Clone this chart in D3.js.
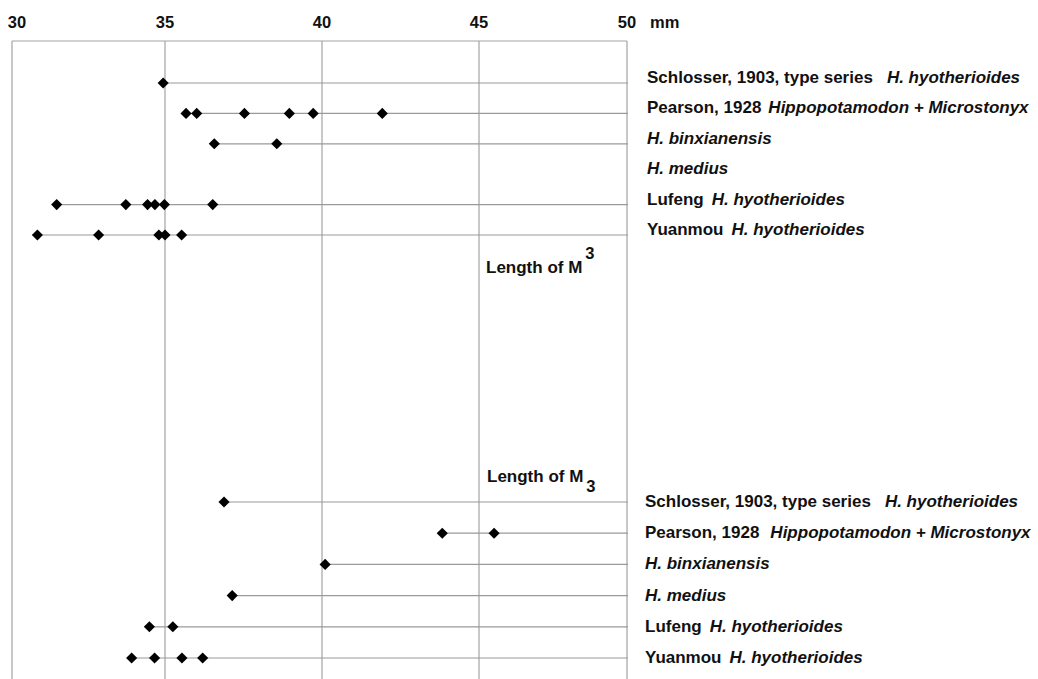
<!DOCTYPE html>
<html>
<head>
<meta charset="utf-8">
<script src="https://cdn.jsdelivr.net/npm/d3@7"></script>
<style>
  html, body { margin: 0; padding: 0; background: #fff; }
  svg { display: block; font-family: "Liberation Sans", Arial, sans-serif; font-weight: bold; }
</style>
</head>
<body>
<svg id="chart" width="1038" height="679"></svg>
<script>
// ---- data ----
const tickValues = [30, 35, 40, 45, 50];
const unitLabel = "mm";

const rowPlain  = ["Schlosser, 1903, type series", "Pearson, 1928", "", "", "Lufeng", "Yuanmou"];
const rowItalic = ["H. hyotherioides", "Hippopotamodon + Microstonyx", "H. binxianensis", "H. medius", "H. hyotherioides", "H. hyotherioides"];

// Length of M3 (upper)
const upperValues = [
  [34.94],
  [35.67, 36.01, 37.53, 38.96, 39.72, 41.92],
  [36.57, 38.56],
  [],
  [31.46, 33.72, 34.43, 34.67, 34.98, 36.52],
  [30.83, 32.83, 34.80, 35.00, 35.53]
];
// Length of M3 (lower)
const lowerValues = [
  [36.88],
  [43.83, 45.51],
  [40.10],
  [37.14],
  [34.49, 35.25],
  [33.91, 34.66, 35.54, 36.20]
];

const upperTitle = ["Length of M", "3"];
const lowerTitle = ["Length of M", "3"];

// ---- layout ----
const svg = d3.select("#chart");
const plotLeft = 12, plotRight = 627, plotTop = 41, plotBottom = 679;

// scanned figure axis is slightly uneven: piecewise linear scale through tick positions
const x = d3.scaleLinear().domain(tickValues).range([12, 165, 322, 479, 627]);

const idx = d3.range(rowPlain.length);
const yUpper = d3.scalePoint().domain(idx).range([83, 235]);
const yLower = d3.scalePoint().domain(idx).range([502, 658]);

const gridColor = "#a3a3a3";

// vertical gridlines
svg.append("g").selectAll("line").data(tickValues).join("line")
  .attr("x1", d => x(d)).attr("x2", d => x(d))
  .attr("y1", plotTop).attr("y2", plotBottom)
  .attr("stroke", gridColor).attr("stroke-width", 1.2);
// top border
svg.append("line").attr("x1", plotLeft).attr("x2", plotRight).attr("y1", plotTop).attr("y2", plotTop)
  .attr("stroke", gridColor).attr("stroke-width", 1.2);

// tick labels
svg.append("g").selectAll("text").data(tickValues).join("text")
  .attr("x", d => x(d) + (d === 30 ? 5 : 0)).attr("y", 28)
  .attr("text-anchor", "middle").attr("font-size", 16.5).attr("fill", "#111")
  .text(d => d);
svg.append("text").attr("x", 650).attr("y", 28).attr("font-size", 16.5).attr("fill", "#111").text(unitLabel);

const diamond = d3.symbol().type(d3.symbolSquare).size(62);

function panel(values, y, labelX, labelDy, gaps) {
  const g = svg.append("g");
  g.selectAll("line.row").data(idx.filter(i => values[i].length)).join("line")
    .attr("class", "row")
    .attr("x1", i => x(d3.min(values[i]))).attr("x2", plotRight + 1)
    .attr("y1", i => y(i)).attr("y2", i => y(i))
    .attr("stroke", "#9a9a9a").attr("stroke-width", 1.2);
  const pts = idx.flatMap(i => values[i].map(v => ({ i, v })));
  g.selectAll("path.pt").data(pts).join("path")
    .attr("class", "pt")
    .attr("d", diamond)
    .attr("transform", d => `translate(${x(d.v)},${y(d.i)}) rotate(45)`)
    .attr("fill", "#000");
  const t = g.selectAll("text.lab").data(idx).join("text")
    .attr("class", "lab")
    .attr("x", labelX).attr("y", i => y(i) + labelDy)
    .attr("font-size", 17).attr("fill", "#111");
  t.append("tspan").text(i => rowPlain[i]);
  t.append("tspan").attr("font-style", "italic")
    .attr("dx", i => rowPlain[i] ? gaps[i] : 0)
    .text(i => rowItalic[i]);
}
panel(upperValues, yUpper, 647, 0, [14, 7, 0, 0, 8, 8]);
panel(lowerValues, yLower, 645, 5, [14, 11, 0, 0, 8, 8]);

// panel titles
const t1 = svg.append("text").attr("x", 486).attr("y", 273).attr("font-size", 17).attr("fill", "#111");
t1.append("tspan").text(upperTitle[0]);
t1.append("tspan").attr("dx", 3).attr("dy", -14).attr("font-size", 16.5).text(upperTitle[1]);
const t2 = svg.append("text").attr("x", 487).attr("y", 482).attr("font-size", 17).attr("fill", "#111");
t2.append("tspan").text(lowerTitle[0]);
t2.append("tspan").attr("dx", 3).attr("dy", 10).attr("font-size", 16.5).text(lowerTitle[1]);
</script>
</body>
</html>
